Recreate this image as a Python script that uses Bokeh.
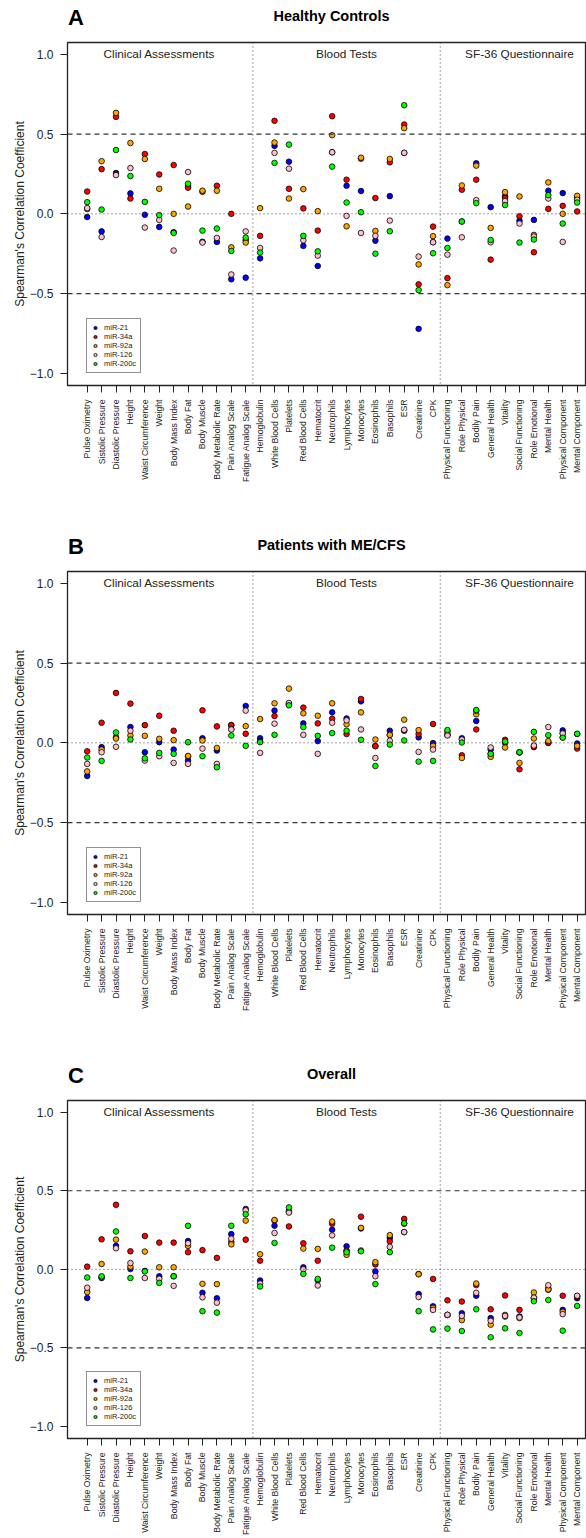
import math
from bokeh.plotting import figure
from bokeh.models import ColumnDataSource, Span, Legend, LegendItem, FixedTicker
from bokeh.layouts import column
from bokeh.embed import file_html
from bokeh.resources import INLINE
from bokeh.core.properties import value

FONT = "Liberation Sans"

categories = [
    "Pulse Oximetry", "Sistolic Pressure", "Diastolic Pressure", "Height",
    "Waist Circumference", "Weight", "Body Mass Index", "Body Fat", "Body Muscle",
    "Body Metabolic Rate", "Pain Analog Scale", "Fatigue Analog Scale",
    "Hemoglobulin", "White Blood Cells", "Platelets", "Red Blood Cells", "Hematocrit",
    "Neutrophils", "Lymphocytes", "Monocytes", "Eosinophils", "Basophils", "ESR",
    "Creatinine", "CPK",
    "Physical Functioning", "Role Physical", "Bodily Pain", "General Health",
    "Vitality", "Social Functioning", "Role Emotional", "Mental Health",
    "Physical Component", "Mental Component",
]
series_names = ["miR-21", "miR-34a", "miR-92a", "miR-126", "miR-200c"]
series_colors = ["#0000FF", "#FF0000", "#FFA500", "#FFC0CB", "#00FF00"]
group_labels = ["Clinical Assessments", "Blood Tests", "SF-36 Questionnaire"]
group_label_x = [6, 19, 31]
group_breaks = [12.5, 25.5]
y_ticks = [-1.0, -0.5, 0.0, 0.5, 1.0]
y_tick_labels = ["\u22121.0", "\u22120.5", "0.0", "0.5", "1.0"]

# ---- Panel A: Healthy Controls ----
hc_mir21 = [-0.02, -0.11, 0.256, 0.128, -0.006, -0.082, -0.115, 0.175, -0.175, -0.176, -0.41, -0.40,
            -0.279, 0.426, 0.327, -0.201, -0.327, 0.386, 0.176, 0.143, -0.168, 0.111, 0.382, -0.721, -0.178,
            -0.155, -0.048, 0.317, 0.042, 0.11, -0.044, -0.038, 0.145, 0.13, 0.1]
hc_mir34a = [0.14, 0.28, 0.608, 0.096, 0.375, 0.247, 0.306, 0.164, 0.138, 0.176, 0.0, -0.165,
             -0.138, 0.583, 0.157, 0.034, -0.105, 0.612, 0.214, 0.346, 0.099, 0.323, 0.56, -0.442, -0.08,
             -0.403, 0.151, 0.214, -0.287, 0.099, -0.015, -0.241, 0.031, 0.05, 0.015]
hc_mir92a = [0.03, 0.33, 0.633, 0.444, 0.344, 0.157, 0.0, 0.046, 0.145, 0.145, -0.21, -0.18,
             0.036, 0.447, 0.096, 0.155, 0.017, 0.493, -0.078, 0.352, -0.107, 0.344, 0.537, -0.317, -0.14,
             -0.447, 0.178, 0.302, -0.088, 0.136, 0.109, -0.132, 0.197, 0.0, 0.113]
hc_mir126 = [0.036, -0.145, 0.243, 0.287, -0.086, -0.038, -0.23, 0.262, -0.18, -0.151, -0.38, -0.11,
             -0.214, 0.382, 0.283, -0.166, -0.262, 0.386, -0.013, -0.12, -0.138, -0.042, 0.382, -0.268, -0.178,
             -0.256, -0.147, 0.086, -0.178, 0.08, -0.061, -0.142, 0.096, -0.176, 0.088]
hc_mir200c = [0.073, 0.027, 0.40, 0.237, 0.075, -0.008, -0.12, 0.189, -0.105, -0.092, -0.233, -0.149,
              -0.243, 0.319, 0.434, -0.138, -0.235, 0.296, 0.071, 0.01, -0.25, -0.109, 0.681, -0.478, -0.247,
              -0.214, -0.048, 0.067, -0.164, 0.055, -0.18, -0.161, 0.117, -0.061, 0.071]

# ---- Panel B: Patients with ME/CFS ----
pt_mir21 = [-0.208, -0.027, 0.035, 0.099, -0.059, 0.004, -0.042, -0.111, 0.029, -0.048, 0.111, 0.231,
            0.029, 0.202, 0.245, 0.122, 0.011, 0.191, 0.153, 0.26, -0.02, 0.076, 0.076, 0.034, -0.002,
            0.05, 0.029, 0.137, -0.042, 0.0, -0.06, -0.02, 0.0, 0.078, -0.004]
pt_mir34a = [-0.053, 0.126, 0.313, 0.246, 0.111, 0.17, 0.076, -0.085, 0.204, 0.103, 0.111, 0.057,
             0.01, 0.168, 0.24, 0.221, 0.122, 0.151, 0.055, 0.275, -0.021, 0.05, 0.08, 0.055, 0.118,
             0.05, -0.078, 0.084, -0.07, 0.019, -0.166, -0.027, 0.0, 0.035, -0.036]
pt_mir92a = [-0.179, -0.042, 0.027, 0.046, 0.044, 0.025, 0.017, -0.082, 0.015, -0.032, 0.086, 0.105,
             0.149, 0.248, 0.34, 0.185, 0.17, 0.248, 0.116, 0.191, 0.021, 0.05, 0.145, 0.08, -0.019,
             0.07, -0.095, 0.179, -0.088, -0.029, -0.126, 0.027, 0.011, 0.06, -0.019]
pt_mir126 = [-0.132, -0.059, -0.025, 0.076, -0.111, -0.084, -0.126, -0.132, -0.036, -0.132, 0.084, 0.202,
             -0.063, 0.12, 0.25, 0.05, -0.069, 0.126, 0.141, 0.084, -0.095, 0.013, 0.082, -0.057, -0.042,
             0.046, 0.021, 0.2, -0.029, 0.005, -0.06, -0.017, 0.099, 0.059, 0.055]
pt_mir200c = [-0.092, -0.113, 0.065, 0.021, -0.097, -0.063, -0.069, 0.004, -0.084, -0.153, 0.046, -0.019,
              0.004, 0.05, 0.235, 0.099, 0.044, 0.061, 0.076, 0.019, -0.145, -0.011, 0.015, -0.118, -0.113,
              0.08, 0.002, 0.206, -0.069, 0.008, -0.059, 0.069, 0.048, 0.032, 0.057]

# ---- Panel C: Overall ----
ov_mir21 = [-0.182, -0.055, 0.149, 0.002, -0.01, -0.044, -0.044, 0.18, -0.149, -0.184, 0.224, 0.384,
            -0.071, 0.277, 0.37, 0.013, -0.07, 0.252, 0.147, 0.26, -0.013, 0.2, 0.237, -0.157, -0.235,
            -0.29, -0.279, -0.168, -0.31, -0.3, -0.3, -0.18, -0.13, -0.258, -0.184]
ov_mir34a = [0.017, 0.191, 0.411, 0.115, 0.212, 0.17, 0.17, 0.109, 0.122, 0.073, 0.174, 0.189,
             0.055, 0.31, 0.273, 0.166, 0.055, 0.29, 0.12, 0.335, 0.031, 0.178, 0.321, -0.03, -0.061,
             -0.197, -0.205, -0.1, -0.254, -0.166, -0.258, -0.187, -0.12, -0.168, -0.175]
ov_mir92a = [-0.145, 0.034, 0.189, 0.017, 0.113, 0.013, 0.013, 0.149, -0.092, -0.094, 0.159, 0.31,
             0.096, 0.314, 0.365, 0.132, 0.13, 0.304, 0.092, 0.264, 0.046, 0.218, 0.29, -0.031, -0.245,
             -0.29, -0.323, -0.09, -0.352, -0.29, -0.31, -0.147, -0.128, -0.27, -0.17]
ov_mir126 = [-0.117, -0.05, 0.134, 0.04, -0.055, -0.06, -0.105, 0.166, -0.178, -0.212, 0.195, 0.375,
             -0.09, 0.231, 0.361, 0.0, -0.103, 0.216, 0.115, 0.12, -0.044, 0.143, 0.237, -0.176, -0.258,
             -0.289, -0.296, -0.149, -0.327, -0.296, -0.306, -0.18, -0.101, -0.285, -0.168]
ov_mir200c = [-0.052, -0.044, 0.241, -0.055, -0.013, -0.086, -0.044, 0.277, -0.266, -0.275, 0.277, 0.35,
              -0.109, 0.168, 0.394, -0.029, -0.061, 0.138, 0.109, 0.115, -0.094, 0.109, 0.293, -0.266, -0.382,
              -0.377, -0.392, -0.254, -0.432, -0.375, -0.405, -0.203, -0.195, -0.39, -0.233]

panels = [
    ("A", "Healthy Controls", [hc_mir21, hc_mir34a, hc_mir92a, hc_mir126, hc_mir200c], 144),
    ("B", "Patients with ME/CFS", [pt_mir21, pt_mir34a, pt_mir92a, pt_mir126, pt_mir200c], 144),
    ("C", "Overall", [ov_mir21, ov_mir34a, ov_mir92a, ov_mir126, ov_mir200c], 95),
]

FIG_W = 586
LEFT = 67
TITLE_H = 40
FRAME_H = 343
X_LO, X_HI = -0.367, 35.65
Y_LO, Y_HI = -1.076, 1.074


def make_title(letter, title):
    # frame spans page x LEFT..FIG_W (frames are aligned in the column)
    t = figure(width=FIG_W, height=TITLE_H, x_range=(LEFT, FIG_W), y_range=(TITLE_H, 0),
               output_backend="svg", toolbar_location=None,
               x_axis_type=None, y_axis_type=None,
               min_border_left=LEFT, min_border_right=0, min_border_top=0, min_border_bottom=0)
    t.outline_line_color = None
    t.xgrid.visible = False
    t.ygrid.visible = False
    t.text(x=[LEFT + 0.5], y=[16.5], text=[letter], text_font=value(FONT),
           text_font_size="22px", text_font_style="bold",
           text_align="left", text_baseline="middle", text_color="black")
    t.text(x=[331], y=[15.5], text=[title], text_font=value(FONT),
           text_font_size="14.5px", text_font_style="bold",
           text_align="center", text_baseline="middle", text_color="black")
    return t


def make_panel(series, bottom):
    p = figure(width=FIG_W, height=2 + FRAME_H + bottom, x_range=(X_LO, X_HI), y_range=(Y_LO, Y_HI),
               output_backend="svg", toolbar_location=None,
               min_border_left=LEFT, min_border_right=0, min_border_top=2,
               min_border_bottom=bottom)
    p.background_fill_color = "white"
    p.border_fill_color = "white"
    p.outline_line_color = "#222222"
    p.outline_line_width = 1.3
    p.xgrid.visible = False
    p.ygrid.visible = False

    xs = list(range(1, len(categories) + 1))
    p.xaxis.ticker = FixedTicker(ticks=xs)
    p.xaxis.major_label_overrides = {i: c for i, c in zip(xs, categories)}
    p.xaxis.major_label_orientation = math.pi / 2
    p.xaxis.major_label_text_font = FONT
    p.xaxis.major_label_text_font_size = "8.7px"
    p.xaxis.major_label_text_color = "#222222"
    p.xaxis.major_label_standoff = 7
    p.xaxis.major_tick_out = 7
    p.xaxis.major_tick_in = 0
    p.xaxis.minor_tick_line_color = None
    p.xaxis.axis_line_color = "#222222"
    p.xaxis.major_tick_line_color = "#222222"

    p.yaxis.ticker = FixedTicker(ticks=y_ticks)
    p.yaxis.major_label_overrides = {t: l for t, l in zip(y_ticks, y_tick_labels)}
    p.yaxis.major_label_text_font = FONT
    p.yaxis.major_label_text_font_size = "12px"
    p.yaxis.major_label_text_color = "#222222"
    p.yaxis.major_label_standoff = 7
    p.yaxis.major_tick_out = 7
    p.yaxis.major_tick_in = 0
    p.yaxis.minor_tick_line_color = None
    p.yaxis.axis_line_color = "#222222"
    p.yaxis.major_tick_line_color = "#222222"
    p.yaxis.axis_label = "Spearman's Correlation Coefficient"
    p.yaxis.axis_label_text_font = FONT
    p.yaxis.axis_label_text_font_size = "12px"
    p.yaxis.axis_label_text_font_style = "normal"
    p.yaxis.axis_label_text_color = "#222222"
    p.yaxis.axis_label_standoff = 0

    for yv in (0.5, -0.5):
        p.add_layout(Span(location=yv, dimension="width", line_color="#333333",
                          line_width=1.2, line_dash="5 4"))
    p.add_layout(Span(location=0.0, dimension="width", line_color="#444444",
                      line_width=1.0, line_dash="1 3"))
    for xb in group_breaks:
        p.add_layout(Span(location=xb, dimension="height", line_color="#444444",
                          line_width=1.0, line_dash="1 3"))

    hsrc = ColumnDataSource(dict(x=group_label_x, y=[1.0] * 3, t=group_labels))
    p.text(x="x", y="y", text="t", source=hsrc, text_font=value(FONT),
           text_font_size="11.8px", text_align="center", text_baseline="middle",
           text_color="#222222")

    items = []
    for name, col, vals in zip(series_names, series_colors, series):
        src = ColumnDataSource(dict(x=xs, y=vals))
        r = p.scatter(x="x", y="y", source=src, marker="circle", size=5.6,
                      fill_color=col, line_color="black", line_width=0.8)
        items.append(LegendItem(label=name, renderers=[r]))

    leg = Legend(items=items, location=(19, 12), orientation="vertical")
    leg.label_text_font = FONT
    leg.label_text_font_size = "7.5px"
    leg.label_text_color = "#222222"
    leg.label_height = 9
    leg.glyph_height = 9
    leg.glyph_width = 8
    leg.label_standoff = 5
    leg.spacing = 0
    leg.padding = 4
    leg.margin = 0
    leg.border_line_color = "#222222"
    leg.border_line_width = 1
    leg.background_fill_alpha = 1.0
    p.add_layout(leg)
    return p


children = []
for letter, title, series, bottom in panels:
    children.append(make_title(letter, title))
    children.append(make_panel(series, bottom))
layout = column(*children, spacing=0)

open("out.html", "w").write(file_html(layout, INLINE))
